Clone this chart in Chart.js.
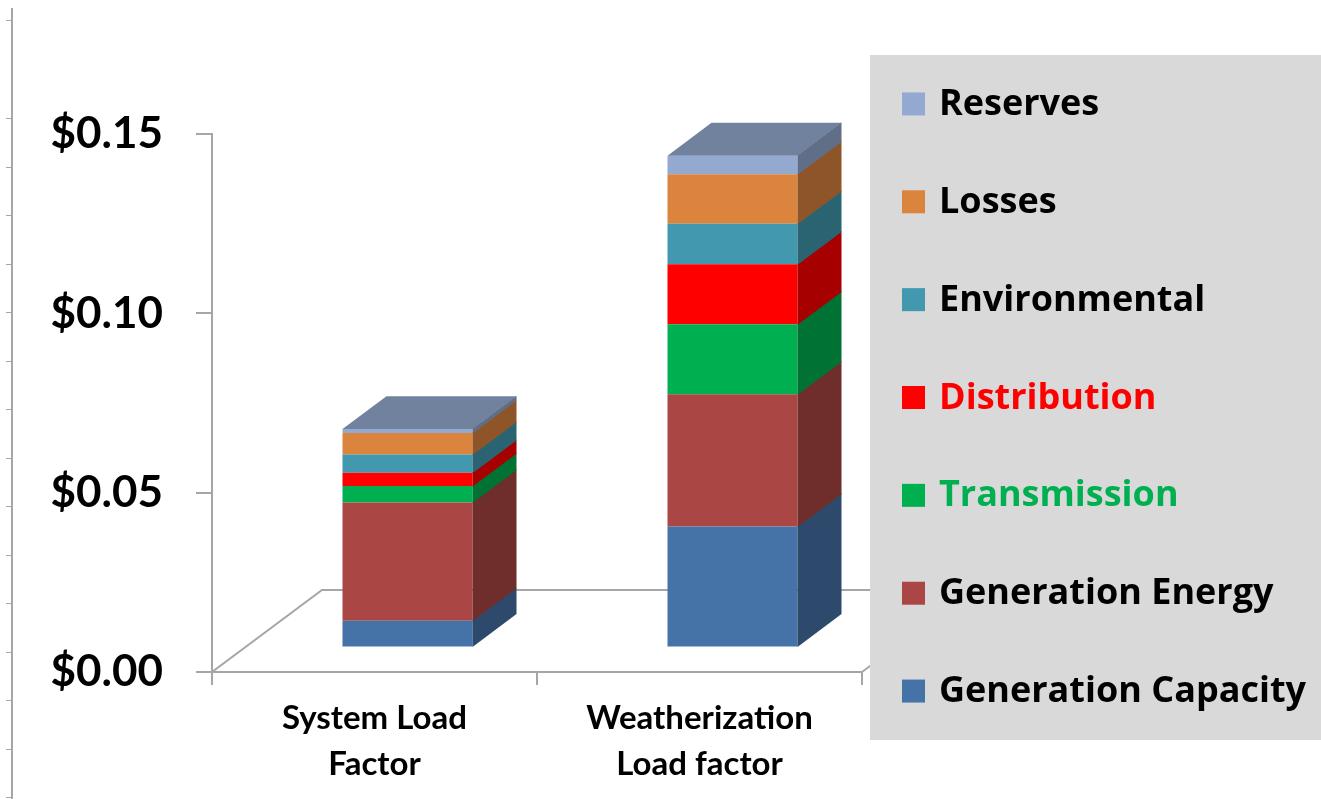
<!DOCTYPE html>
<html>
<head>
<meta charset="utf-8">
<script src="https://cdn.jsdelivr.net/npm/chart.js@4.4.1/dist/chart.umd.min.js"></script>
<style>
  html, body { margin: 0; padding: 0; background: #ffffff; }
  #wrap { width: 1321px; height: 799px; }
</style>
</head>
<body>
<div id="wrap"><canvas id="c" width="1321" height="799"></canvas></div>
<script>
// ---------- data ----------
const categories = [['System Load', 'Factor'], ['Weatherization', 'Load factor']];
const seriesNames = ['Generation Capacity', 'Generation Energy', 'Transmission', 'Distribution', 'Environmental', 'Losses', 'Reserves'];
const generationCapacity = [0.0074, 0.0337];
const generationEnergy   = [0.0330, 0.0369];
const transmission       = [0.0046, 0.0195];
const distribution       = [0.0037, 0.0167];
const environmental      = [0.0051, 0.0113];
const losses             = [0.0060, 0.0138];
const reserves           = [0.0011, 0.0052];
const yTickValues = [0, 0.05, 0.10, 0.15];

// ---------- styles ----------
const seriesColors = ['#4572A7', '#AA4643', '#00B050', '#FF0000', '#4198AF', '#DB843D', '#93A9CF'];
const legendTextColors = ['#000000', '#000000', '#00B050', '#FF0000', '#000000', '#000000', '#000000'];
const AXIS_COLOR = '#A6A6A6';
const DEPTH = { dx: 110, dy: -82, barStart: 0.3, barDepth: 0.4, shadeSide: 0.65, shadeTop: 0.77 };

const seriesValues = [generationCapacity, generationEnergy, transmission, distribution, environmental, losses, reserves];

function shade(hex, f) {
  const h = hex.replace('#', '');
  const r = Math.round(parseInt(h.substr(0, 2), 16) * f);
  const g = Math.round(parseInt(h.substr(2, 2), 16) * f);
  const b = Math.round(parseInt(h.substr(4, 2), 16) * f);
  return 'rgb(' + r + ',' + g + ',' + b + ')';
}

const threeD = {
  id: 'threeD',
  beforeDraw(chart) {
    const ctx = chart.ctx;
    ctx.save();
    ctx.fillStyle = '#ffffff';
    ctx.fillRect(0, 0, chart.width, chart.height);
    // page ruler line at far left
    ctx.strokeStyle = AXIS_COLOR;
    ctx.lineWidth = 2;
    ctx.beginPath();
    ctx.moveTo(12, 8); ctx.lineTo(12, chart.height);
    ctx.stroke();
    ctx.lineWidth = 1;
    ctx.beginPath();
    const rulerTicks = [20];
    for (let y = 118; y < chart.height; y += 48.5) rulerTicks.push(y);
    rulerTicks.forEach(y => { ctx.moveTo(6, Math.round(y) + 0.5); ctx.lineTo(12, Math.round(y) + 0.5); });
    ctx.stroke();
    ctx.restore();
  },
  beforeDatasetsDraw(chart) {
    const { ctx, chartArea: a } = chart;
    ctx.save();
    ctx.strokeStyle = AXIS_COLOR;
    ctx.lineWidth = 2;
    ctx.beginPath();
    ctx.moveTo(a.left, a.bottom);
    ctx.lineTo(a.left + DEPTH.dx, a.bottom + DEPTH.dy);
    ctx.lineTo(a.right + DEPTH.dx, a.bottom + DEPTH.dy);
    ctx.lineTo(a.right, a.bottom);
    ctx.stroke();
    ctx.restore();
    ctx.save();
    ctx.translate(DEPTH.dx * DEPTH.barStart, DEPTH.dy * DEPTH.barStart);
  },
  afterDatasetsDraw(chart) {
    const ctx = chart.ctx;
    const bx = DEPTH.dx * DEPTH.barDepth, by = DEPTH.dy * DEPTH.barDepth;
    const tops = [];
    chart.data.datasets.forEach((ds, di) => {
      const meta = chart.getDatasetMeta(di);
      if (meta.hidden) return;
      meta.data.forEach((el, i) => {
        const p = el.getProps(['x', 'y', 'base', 'width'], true);
        const left = p.x - p.width / 2, right = p.x + p.width / 2;
        const top = Math.min(p.y, p.base), bottom = Math.max(p.y, p.base);
        ctx.fillStyle = shade(ds.backgroundColor, DEPTH.shadeSide);
        ctx.beginPath();
        ctx.moveTo(right, bottom + 0.5);
        ctx.lineTo(right, top - 0.5);
        ctx.lineTo(right + bx, top + by - 0.5);
        ctx.lineTo(right + bx, bottom + by + 0.5);
        ctx.closePath();
        ctx.fill();
        if (!tops[i] || top < tops[i].top) tops[i] = { left, right, top, color: ds.backgroundColor };
      });
    });
    tops.forEach(t => {
      if (!t) return;
      ctx.fillStyle = shade(t.color, DEPTH.shadeTop);
      ctx.beginPath();
      ctx.moveTo(t.left, t.top);
      ctx.lineTo(t.left + bx, t.top + by);
      ctx.lineTo(t.right + bx, t.top + by);
      ctx.lineTo(t.right, t.top);
      ctx.closePath();
      ctx.fill();
    });
    ctx.restore();
  },
  afterDraw(chart) {
    const { ctx, chartArea: a } = chart;
    const px = a.right + 8, py = 55, pw = chart.width - px, ph = 685;
    ctx.save();
    ctx.fillStyle = '#D9D9D9';
    ctx.fillRect(px, py, pw, ph);
    const ds = chart.data.datasets;
    const n = ds.length;
    const step = ph / n;
    ctx.font = 'bold 36px "Open Sans"';
    ctx.textBaseline = 'alphabetic';
    ctx.textAlign = 'left';
    for (let k = 0; k < n; k++) {
      const di = n - 1 - k;
      const cy = py + step * (k + 0.5);
      ctx.fillStyle = ds[di].backgroundColor;
      ctx.fillRect(px + 32, cy - 11.5, 23, 23);
      ctx.fillStyle = legendTextColors[di];
      ctx.fillText(ds[di].label, px + 69, cy + 11);
    }
    ctx.restore();
  }
};

const datasets = seriesValues.map((vals, i) => ({
  label: seriesNames[i],
  data: vals,
  backgroundColor: seriesColors[i],
  borderWidth: 0,
  clip: false
}));

new Chart(document.getElementById('c'), {
  type: 'bar',
  data: { labels: categories, datasets: datasets },
  options: {
    responsive: false,
    animation: false,
    devicePixelRatio: 1,
    layout: { padding: { top: 134, right: 459, left: 0, bottom: 0 } },
    datasets: { bar: { barPercentage: 1, categoryPercentage: 0.4 } },
    plugins: { legend: { display: false }, tooltip: { enabled: false } },
    scales: {
      x: {
        stacked: true,
        grid: { display: true, drawOnChartArea: false, drawTicks: true, tickLength: 13, color: AXIS_COLOR, lineWidth: 2, offset: true },
        border: { display: true, color: AXIS_COLOR, width: 2 },
        ticks: { font: { family: 'Lato', weight: 'bold', size: 33, lineHeight: 1.38 }, color: '#000000', padding: 11, maxRotation: 0, autoSkip: false },
        afterFit: s => { s.height = 127; }
      },
      y: {
        stacked: true,
        min: 0,
        max: 0.15,
        afterBuildTicks: s => { s.ticks = yTickValues.map(v => ({ value: v })); },
        ticks: { callback: v => '$' + Number(v).toFixed(2), font: { family: 'Lato', weight: 'bold', size: 44 }, color: '#000000', padding: 33 },
        grid: { display: true, drawOnChartArea: false, drawTicks: true, tickLength: 16, color: AXIS_COLOR, lineWidth: 2 },
        border: { display: true, color: AXIS_COLOR, width: 2 },
        afterFit: s => { s.width = 212; }
      }
    }
  },
  plugins: [threeD]
});
</script>
</body>
</html>
